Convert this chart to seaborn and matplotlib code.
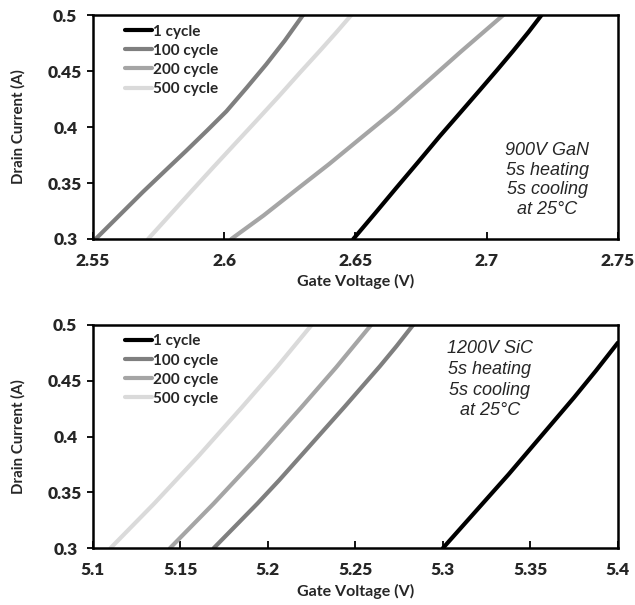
import matplotlib
matplotlib.use("Agg")
import matplotlib.pyplot as plt
import seaborn as sns
import pandas as pd
from matplotlib.lines import Line2D

sns.set_theme(style="white")
plt.rcParams['font.family'] = ['Lato', 'DejaVu Sans']

series_names = ["1 cycle", "100 cycle", "200 cycle", "500 cycle"]
colors = ["#000000", "#7f7f7f", "#a5a5a5", "#dadada"]

# Top panel: 900V GaN
gan_1_v = [2.6492, 2.6575, 2.6657, 2.6740, 2.6822, 2.6900, 2.6974, 2.7040, 2.7101, 2.7160, 2.7209]
gan_1_i = [0.300, 0.323, 0.346, 0.369, 0.392, 0.413, 0.433, 0.451, 0.468, 0.485, 0.500]
gan_100_v = [2.5510, 2.5600, 2.5690, 2.5775, 2.5856, 2.5935, 2.6008, 2.6085, 2.6160, 2.6230, 2.6300]
gan_100_i = [0.300, 0.321, 0.342, 0.361, 0.379, 0.397, 0.414, 0.435, 0.456, 0.477, 0.500]
gan_200_v = [2.6027, 2.6150, 2.6280, 2.6400, 2.6530, 2.6650, 2.6780, 2.6900, 2.7063]
gan_200_i = [0.300, 0.321, 0.345, 0.367, 0.392, 0.415, 0.442, 0.467, 0.500]
gan_500_v = [2.5710, 2.5795, 2.5880, 2.5958, 2.6033, 2.6120, 2.6210, 2.6290, 2.6364, 2.6425, 2.6484]
gan_500_i = [0.300, 0.322, 0.344, 0.364, 0.383, 0.405, 0.428, 0.449, 0.468, 0.484, 0.500]

# Bottom panel: 1200V SiC
sic_1_v = [5.300, 5.3125, 5.325, 5.3375, 5.350, 5.3625, 5.375, 5.3875, 5.400]
sic_1_i = [0.300, 0.322, 0.344, 0.366, 0.389, 0.412, 0.435, 0.459, 0.484]
sic_100_v = [5.169, 5.1815, 5.194, 5.2065, 5.219, 5.2315, 5.244, 5.254, 5.264, 5.2735, 5.283]
sic_100_i = [0.300, 0.320, 0.340, 0.361, 0.383, 0.405, 0.427, 0.445, 0.463, 0.481, 0.500]
sic_200_v = [5.144, 5.1565, 5.169, 5.1815, 5.194, 5.2065, 5.219, 5.229, 5.239, 5.249, 5.259]
sic_200_i = [0.300, 0.320, 0.340, 0.361, 0.382, 0.404, 0.426, 0.444, 0.462, 0.481, 0.500]
sic_500_v = [5.110, 5.1225, 5.135, 5.1475, 5.160, 5.1725, 5.185, 5.195, 5.205, 5.215, 5.225]
sic_500_i = [0.300, 0.320, 0.340, 0.361, 0.382, 0.404, 0.426, 0.444, 0.462, 0.481, 0.500]

gan_xticks = [2.55, 2.6, 2.65, 2.7, 2.75]
gan_xlabels = ["2.55", "2.6", "2.65", "2.7", "2.75"]
sic_xticks = [5.1, 5.15, 5.2, 5.25, 5.3, 5.35, 5.4]
sic_xlabels = ["5.1", "5.15", "5.2", "5.25", "5.3", "5.35", "5.4"]
yticks = [0.3, 0.35, 0.4, 0.45, 0.5]
ylabels = ["0.3", "0.35", "0.4", "0.45", "0.5"]

gan_text = "900V GaN\n5s heating\n5s cooling\nat 25°C"
sic_text = "1200V SiC\n5s heating\n5s cooling\nat 25°C"


def make_df(vs, cs):
    rows = []
    for name, v, c in zip(series_names, vs, cs):
        for a, b in zip(v, c):
            rows.append({"V": a, "I": b, "series": name})
    return pd.DataFrame(rows)


df_gan = make_df([gan_1_v, gan_100_v, gan_200_v, gan_500_v],
                 [gan_1_i, gan_100_i, gan_200_i, gan_500_i])
df_sic = make_df([sic_1_v, sic_100_v, sic_200_v, sic_500_v],
                 [sic_1_i, sic_100_i, sic_200_i, sic_500_i])

fig = plt.figure(figsize=(6.35, 6.05), dpi=100)
ax1 = fig.add_axes([0.1465, 0.605, 0.8265, 0.370])
ax2 = fig.add_axes([0.1465, 0.094, 0.8265, 0.369])

palette = dict(zip(series_names, colors))


def style(ax, df, xlim, xticks, xlabels, text, tx, ty, ls):
    sns.lineplot(data=df, x="V", y="I", hue="series", palette=palette,
                 hue_order=series_names, sort=False, estimator=None,
                 linewidth=3, ax=ax, legend=False)
    ax.set_xlim(*xlim)
    ax.set_ylim(0.3, 0.5)
    ax.set_xticks(xticks)
    ax.set_xticklabels(xlabels, fontweight="heavy", fontsize=12.5)
    ax.set_yticks(yticks)
    ax.set_yticklabels(ylabels, fontweight="heavy", fontsize=12.5, ha="center")
    ax.tick_params(axis="x", direction="in", length=5, width=1.3,
                   color="black", pad=10, bottom=True)
    ax.tick_params(axis="y", direction="out", length=4, width=1.3,
                   color="black", pad=16, left=True)
    for s in ax.spines.values():
        s.set_color("black")
        s.set_linewidth(1.8)
    ax.set_xlabel("Gate Voltage (V)", fontweight="bold", fontsize=11.5, labelpad=4)
    ax.set_ylabel("Drain Current (A)", fontweight="bold", fontsize=10.8, labelpad=16)
    handles = [Line2D([0], [0], color=c, lw=3) for c in colors]
    ax.legend(handles, series_names, loc="upper left",
              bbox_to_anchor=(0.061, 0.957), frameon=False,
              borderpad=0, borderaxespad=0,
              handlelength=1.75, handletextpad=0.05, labelspacing=0.33,
              prop={"weight": "bold", "size": 11})
    ax.text(tx, ty, text, transform=ax.transAxes, ha="center", va="center",
            fontsize=13, fontstyle="italic", family="Liberation Sans",
            linespacing=ls)


style(ax1, df_gan, (2.55, 2.75), gan_xticks, gan_xlabels, gan_text, 0.865, 0.263, 1.2)
style(ax2, df_sic, (5.1, 5.4), sic_xticks, sic_xlabels, sic_text, 0.756, 0.755, 1.3)

fig.savefig("out.png", dpi=100)
